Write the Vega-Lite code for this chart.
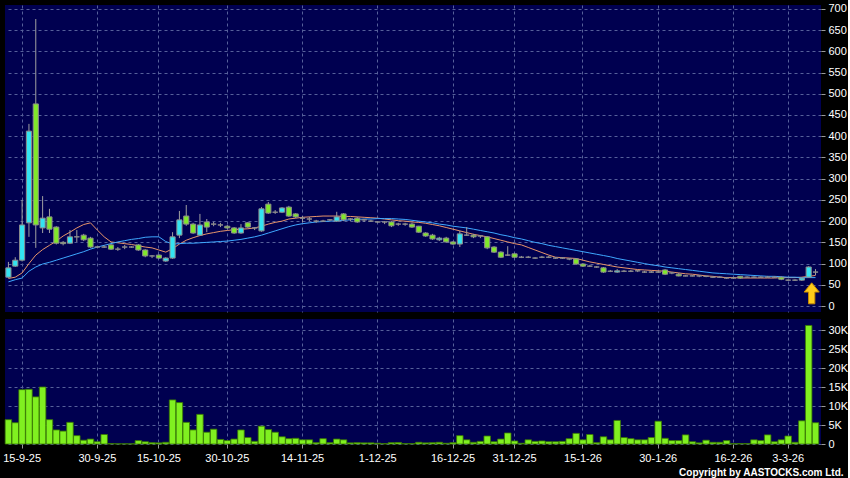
{
 "$schema": "https://vega.github.io/schema/vega-lite/v6.json",
 "background": "#000000",
 "padding": {"left": 2, "top": 2, "right": 0, "bottom": 0},
 "spacing": 7,
 "title": {"text": "Copyright by AASTOCKS.com Ltd.", "orient": "bottom", "anchor": "end", "color": "#ffffff", "font": "Liberation Sans", "fontSize": 10, "fontWeight": "bold", "offset": 5, "dx": -4},
 "datasets": {
  "px": [
   {"d":"11-9-25","o":68,"h":104,"l":66,"c":90,"v":6400,"m1":65,"m2":57},
   {"d":"12-9-25","o":94,"h":115,"l":92,"c":108,"v":5600,"m1":68,"m2":62},
   {"d":"15-9-25","o":108,"h":250,"l":105,"c":191,"v":14300,"m1":78,"m2":66},
   {"d":"16-9-25","o":196,"h":429,"l":163,"c":412,"v":14400,"m1":100,"m2":82},
   {"d":"17-9-25","o":476,"h":676,"l":137,"c":191,"v":12400,"m1":120,"m2":92},
   {"d":"18-9-25","o":184,"h":259,"l":172,"c":207,"v":15000,"m1":133,"m2":99},
   {"d":"19-9-25","o":210,"h":229,"l":172,"c":181,"v":6400,"m1":143,"m2":103},
   {"d":"22-9-25","o":186,"h":188,"l":145,"c":148,"v":3700,"m1":153,"m2":108},
   {"d":"23-9-25","o":150,"h":153,"l":143,"c":147,"v":3400,"m1":165,"m2":113},
   {"d":"24-9-25","o":148,"h":179,"l":146,"c":163,"v":5700,"m1":174,"m2":118},
   {"d":"25-9-25","o":163,"h":179,"l":151,"c":163,"v":2200,"m1":184,"m2":123},
   {"d":"26-9-25","o":167,"h":170,"l":153,"c":156,"v":1000,"m1":192,"m2":128},
   {"d":"29-9-25","o":160,"h":163,"l":137,"c":139,"v":1300,"m1":196,"m2":134},
   {"d":"30-9-25","o":139,"h":141,"l":137,"c":139,"v":600,"m1":179,"m2":139},
   {"d":"2-10-25","o":139,"h":143,"l":137,"c":139,"v":2500,"m1":163,"m2":143},
   {"d":"3-10-25","o":144,"h":146,"l":132,"c":134,"v":100,"m1":151,"m2":147},
   {"d":"6-10-25","o":134,"h":139,"l":130,"c":134,"v":50,"m1":149,"m2":151},
   {"d":"8-10-25","o":139,"h":144,"l":134,"c":139,"v":50,"m1":147,"m2":154},
   {"d":"9-10-25","o":139,"h":141,"l":137,"c":139,"v":50,"m1":145,"m2":157},
   {"d":"10-10-25","o":144,"h":146,"l":130,"c":132,"v":900,"m1":142,"m2":159},
   {"d":"13-10-25","o":132,"h":134,"l":115,"c":118,"v":600,"m1":139,"m2":162},
   {"d":"14-10-25","o":118,"h":120,"l":113,"c":118,"v":350,"m1":137,"m2":163},
   {"d":"15-10-25","o":120,"h":122,"l":111,"c":113,"v":300,"m1":132,"m2":163},
   {"d":"16-10-25","o":106,"h":115,"l":104,"c":113,"v":450,"m1":127,"m2":152},
   {"d":"17-10-25","o":113,"h":174,"l":111,"c":163,"v":11600,"m1":135,"m2":146},
   {"d":"20-10-25","o":167,"h":224,"l":160,"c":203,"v":10900,"m1":146,"m2":147},
   {"d":"21-10-25","o":212,"h":238,"l":189,"c":193,"v":5700,"m1":155,"m2":148},
   {"d":"22-10-25","o":193,"h":196,"l":170,"c":172,"v":3700,"m1":161,"m2":148},
   {"d":"23-10-25","o":167,"h":217,"l":165,"c":191,"v":7800,"m1":166,"m2":149},
   {"d":"24-10-25","o":198,"h":205,"l":174,"c":186,"v":3100,"m1":170,"m2":150},
   {"d":"27-10-25","o":193,"h":198,"l":188,"c":193,"v":3900,"m1":173,"m2":151},
   {"d":"28-10-25","o":191,"h":196,"l":186,"c":191,"v":1200,"m1":176,"m2":152},
   {"d":"30-10-25","o":188,"h":191,"l":181,"c":184,"v":900,"m1":178,"m2":153},
   {"d":"31-10-25","o":184,"h":186,"l":170,"c":172,"v":1300,"m1":180,"m2":155},
   {"d":"3-11-25","o":172,"h":193,"l":170,"c":184,"v":3700,"m1":181,"m2":157},
   {"d":"4-11-25","o":196,"h":198,"l":184,"c":186,"v":1700,"m1":182,"m2":160},
   {"d":"5-11-25","o":184,"h":186,"l":179,"c":184,"v":700,"m1":184,"m2":163},
   {"d":"6-11-25","o":177,"h":233,"l":175,"c":229,"v":4700,"m1":188,"m2":167},
   {"d":"7-11-25","o":240,"h":245,"l":217,"c":219,"v":3800,"m1":193,"m2":172},
   {"d":"10-11-25","o":221,"h":226,"l":217,"c":221,"v":3100,"m1":197,"m2":177},
   {"d":"11-11-25","o":221,"h":233,"l":219,"c":231,"v":1900,"m1":200,"m2":182},
   {"d":"12-11-25","o":233,"h":236,"l":210,"c":212,"v":1400,"m1":205,"m2":187},
   {"d":"13-11-25","o":217,"h":219,"l":207,"c":210,"v":1500,"m1":207,"m2":191},
   {"d":"14-11-25","o":207,"h":212,"l":198,"c":207,"v":1100,"m1":209,"m2":194},
   {"d":"17-11-25","o":205,"h":210,"l":200,"c":205,"v":1100,"m1":210,"m2":196},
   {"d":"18-11-25","o":200,"h":203,"l":196,"c":200,"v":350,"m1":211,"m2":198},
   {"d":"19-11-25","o":200,"h":203,"l":198,"c":200,"v":1400,"m1":212,"m2":199},
   {"d":"20-11-25","o":203,"h":205,"l":200,"c":203,"v":350,"m1":212,"m2":200},
   {"d":"21-11-25","o":200,"h":222,"l":198,"c":210,"v":1300,"m1":212,"m2":201},
   {"d":"24-11-25","o":217,"h":219,"l":200,"c":203,"v":1100,"m1":211,"m2":202},
   {"d":"25-11-25","o":205,"h":207,"l":200,"c":205,"v":300,"m1":211,"m2":203},
   {"d":"26-11-25","o":207,"h":210,"l":196,"c":198,"v":350,"m1":210,"m2":204},
   {"d":"27-11-25","o":203,"h":205,"l":198,"c":203,"v":300,"m1":209,"m2":205},
   {"d":"28-11-25","o":200,"h":203,"l":198,"c":200,"v":300,"m1":208,"m2":205},
   {"d":"1-12-25","o":198,"h":200,"l":196,"c":198,"v":200,"m1":207,"m2":206},
   {"d":"2-12-25","o":198,"h":200,"l":193,"c":198,"v":100,"m1":205,"m2":206},
   {"d":"3-12-25","o":198,"h":200,"l":186,"c":189,"v":350,"m1":203,"m2":206},
   {"d":"4-12-25","o":193,"h":196,"l":189,"c":193,"v":400,"m1":201,"m2":205},
   {"d":"5-12-25","o":193,"h":196,"l":189,"c":193,"v":100,"m1":200,"m2":204},
   {"d":"8-12-25","o":193,"h":196,"l":184,"c":186,"v":100,"m1":198,"m2":202},
   {"d":"9-12-25","o":188,"h":189,"l":172,"c":174,"v":450,"m1":197,"m2":200},
   {"d":"10-12-25","o":172,"h":174,"l":163,"c":165,"v":300,"m1":195,"m2":198},
   {"d":"11-12-25","o":167,"h":170,"l":156,"c":158,"v":350,"m1":192,"m2":196},
   {"d":"12-12-25","o":156,"h":163,"l":153,"c":160,"v":450,"m1":189,"m2":193},
   {"d":"15-12-25","o":160,"h":163,"l":149,"c":151,"v":200,"m1":185,"m2":191},
   {"d":"16-12-25","o":151,"h":153,"l":144,"c":146,"v":350,"m1":181,"m2":188},
   {"d":"17-12-25","o":146,"h":177,"l":139,"c":170,"v":2200,"m1":177,"m2":186},
   {"d":"18-12-25","o":167,"h":186,"l":165,"c":167,"v":1100,"m1":173,"m2":184},
   {"d":"19-12-25","o":167,"h":170,"l":160,"c":163,"v":450,"m1":169,"m2":181},
   {"d":"22-12-25","o":165,"h":167,"l":160,"c":165,"v":700,"m1":166,"m2":178},
   {"d":"23-12-25","o":163,"h":165,"l":134,"c":137,"v":2100,"m1":163,"m2":175},
   {"d":"24-12-25","o":139,"h":141,"l":125,"c":127,"v":600,"m1":159,"m2":172},
   {"d":"29-12-25","o":127,"h":129,"l":113,"c":115,"v":1300,"m1":155,"m2":168},
   {"d":"30-12-25","o":120,"h":141,"l":118,"c":120,"v":2900,"m1":151,"m2":165},
   {"d":"31-12-25","o":123,"h":125,"l":113,"c":115,"v":800,"m1":147,"m2":161},
   {"d":"2-1-26","o":115,"h":118,"l":113,"c":115,"v":200,"m1":144,"m2":158},
   {"d":"5-1-26","o":115,"h":118,"l":113,"c":115,"v":1100,"m1":138,"m2":154},
   {"d":"6-1-26","o":113,"h":115,"l":111,"c":113,"v":700,"m1":132,"m2":150},
   {"d":"7-1-26","o":115,"h":118,"l":113,"c":115,"v":800,"m1":126,"m2":147},
   {"d":"8-1-26","o":115,"h":118,"l":113,"c":115,"v":600,"m1":120,"m2":143},
   {"d":"9-1-26","o":113,"h":115,"l":111,"c":113,"v":600,"m1":115,"m2":140},
   {"d":"12-1-26","o":113,"h":115,"l":111,"c":113,"v":700,"m1":114,"m2":137},
   {"d":"13-1-26","o":111,"h":113,"l":108,"c":111,"v":1400,"m1":113,"m2":134},
   {"d":"14-1-26","o":111,"h":113,"l":97,"c":99,"v":2800,"m1":112,"m2":131},
   {"d":"15-1-26","o":99,"h":101,"l":92,"c":94,"v":1100,"m1":108,"m2":128},
   {"d":"16-1-26","o":94,"h":97,"l":92,"c":94,"v":2500,"m1":104,"m2":125},
   {"d":"19-1-26","o":92,"h":94,"l":90,"c":92,"v":350,"m1":101,"m2":122},
   {"d":"20-1-26","o":90,"h":92,"l":78,"c":80,"v":1900,"m1":98,"m2":119},
   {"d":"21-1-26","o":82,"h":85,"l":80,"c":82,"v":1100,"m1":95,"m2":116},
   {"d":"22-1-26","o":80,"h":87,"l":78,"c":83,"v":6200,"m1":92,"m2":112},
   {"d":"23-1-26","o":82,"h":85,"l":80,"c":82,"v":1700,"m1":90,"m2":109},
   {"d":"26-1-26","o":82,"h":85,"l":80,"c":82,"v":1400,"m1":88,"m2":106},
   {"d":"27-1-26","o":83,"h":85,"l":80,"c":83,"v":1100,"m1":86,"m2":103},
   {"d":"28-1-26","o":80,"h":83,"l":78,"c":80,"v":1100,"m1":85,"m2":100},
   {"d":"29-1-26","o":80,"h":83,"l":78,"c":80,"v":1700,"m1":84,"m2":97},
   {"d":"30-1-26","o":80,"h":83,"l":78,"c":80,"v":6000,"m1":83,"m2":95},
   {"d":"2-2-26","o":85,"h":87,"l":73,"c":75,"v":1500,"m1":82,"m2":92},
   {"d":"3-2-26","o":78,"h":80,"l":75,"c":78,"v":900,"m1":80,"m2":90},
   {"d":"4-2-26","o":75,"h":78,"l":70,"c":71,"v":900,"m1":78,"m2":88},
   {"d":"5-2-26","o":71,"h":73,"l":70,"c":71,"v":2400,"m1":76,"m2":86},
   {"d":"6-2-26","o":71,"h":73,"l":70,"c":71,"v":600,"m1":75,"m2":84},
   {"d":"9-2-26","o":71,"h":73,"l":68,"c":71,"v":300,"m1":73,"m2":82},
   {"d":"10-2-26","o":70,"h":71,"l":68,"c":70,"v":1000,"m1":71,"m2":80},
   {"d":"11-2-26","o":68,"h":70,"l":66,"c":68,"v":450,"m1":70,"m2":78},
   {"d":"12-2-26","o":68,"h":70,"l":66,"c":68,"v":450,"m1":68,"m2":77},
   {"d":"13-2-26","o":66,"h":68,"l":64,"c":66,"v":900,"m1":67,"m2":76},
   {"d":"16-2-26","o":66,"h":68,"l":64,"c":66,"v":100,"m1":67,"m2":75},
   {"d":"20-2-26","o":70,"h":71,"l":64,"c":66,"v":100,"m1":66,"m2":74},
   {"d":"23-2-26","o":68,"h":70,"l":66,"c":68,"v":100,"m1":66,"m2":73},
   {"d":"24-2-26","o":68,"h":70,"l":66,"c":68,"v":1100,"m1":66,"m2":72},
   {"d":"25-2-26","o":68,"h":70,"l":66,"c":68,"v":900,"m1":66,"m2":71},
   {"d":"26-2-26","o":68,"h":71,"l":66,"c":68,"v":2400,"m1":66,"m2":70},
   {"d":"27-2-26","o":68,"h":70,"l":66,"c":68,"v":600,"m1":66,"m2":70},
   {"d":"2-3-26","o":68,"h":70,"l":61,"c":63,"v":1100,"m1":67,"m2":69},
   {"d":"3-3-26","o":61,"h":63,"l":59,"c":61,"v":2100,"m1":67,"m2":68},
   {"d":"4-3-26","o":61,"h":63,"l":59,"c":61,"v":450,"m1":67,"m2":68},
   {"d":"5-3-26","o":61,"h":68,"l":59,"c":66,"v":6100,"m1":68,"m2":67},
   {"d":"6-3-26","o":68,"h":94,"l":66,"c":92,"v":31200,"m1":70,"m2":67},
   {"d":"9-3-26","o":80,"h":87,"l":73,"c":80,"v":5600,"m1":72,"m2":67}
  ]
 },
 "vconcat": [
  {
   "width": 816,
   "height": 307,
   "data": {"name": "px"},
   "encoding": {
    "x": {"field": "d", "type": "ordinal", "sort": null,
     "scale": {"paddingInner": 0, "paddingOuter": 0.15, "align": 0},
     "axis": {"values": ["15-9-25","30-9-25","15-10-25","30-10-25","14-11-25","1-12-25","16-12-25","31-12-25","15-1-26","30-1-26","16-2-26","3-3-26"],
      "labels": false, "ticks": false, "domain": false, "grid": true, "title": null, "bandPosition": 0.5}}
   },
   "layer": [
    {"mark": {"type": "line", "color": "#e8956a", "strokeWidth": 1},
     "encoding": {
      "y": {"field": "m1", "type": "quantitative",
       "scale": {"domain": [-14, 709], "nice": false, "zero": false},
       "axis": {"orient": "right", "values": [0,50,100,150,200,250,300,350,400,450,500,550,600,650,700], "grid": true, "title": null, "labelPadding": 3, "labelOverlap": false}},
      "order": {"value": null}}},
    {"mark": {"type": "line", "color": "#3ea8ff", "strokeWidth": 1},
     "encoding": {"y": {"field": "m2", "type": "quantitative", "scale": {"domain": [-14, 709], "nice": false, "zero": false},
       "axis": {"orient": "right", "values": [0,50,100,150,200,250,300,350,400,450,500,550,600,650,700], "grid": true, "title": null, "labelPadding": 3, "labelOverlap": false}}, "order": {"value": null}}},
    {"mark": {"type": "rule", "color": "#a0a0a0", "strokeWidth": 1},
     "encoding": {"y": {"field": "l", "type": "quantitative", "scale": {"domain": [-14, 709], "nice": false, "zero": false},
       "axis": {"orient": "right", "values": [0,50,100,150,200,250,300,350,400,450,500,550,600,650,700], "grid": true, "title": null, "labelPadding": 3, "labelOverlap": false}}, "y2": {"field": "h"}}},
    {"mark": {"type": "bar", "width": {"band": 0.75}, "stroke": "#8c8c8c", "strokeWidth": 1},
     "encoding": {
      "y": {"field": "o", "type": "quantitative", "scale": {"domain": [-14, 709], "nice": false, "zero": false},
       "axis": {"orient": "right", "values": [0,50,100,150,200,250,300,350,400,450,500,550,600,650,700], "grid": true, "title": null, "labelPadding": 3, "labelOverlap": false}}, "y2": {"field": "c"},
      "fill": {"condition": [{"test": "datum.c > datum.o", "value": "#33e4f2"}, {"test": "datum.c < datum.o", "value": "#80e82a"}], "value": "#8c8c8c"}}},
    {"mark": {"type": "point", "shape": "M0,-1L0.72,-0.12L0.3,-0.12L0.3,1L-0.3,1L-0.3,-0.12L-0.72,-0.12Z", "size": 441, "filled": true, "fill": "#ffcc1a", "stroke": "#c98a00", "strokeWidth": 1, "xOffset": 3},
     "encoding": {"y": {"datum": 30, "type": "quantitative", "scale": {"domain": [-14, 709], "nice": false, "zero": false},
       "axis": {"orient": "right", "values": [0,50,100,150,200,250,300,350,400,450,500,550,600,650,700], "grid": true, "title": null, "labelPadding": 3, "labelOverlap": false}}, "opacity": {"condition": {"test": "datum.d == '6-3-26'", "value": 1}, "value": 0}}}
   ]
  },
  {
   "width": 816,
   "height": 125,
   "data": {"name": "px"},
   "mark": {"type": "bar", "width": {"band": 0.95}, "fill": "#80f020", "stroke": "#3a7a00", "strokeWidth": 0.8},
   "encoding": {
    "x": {"field": "d", "type": "ordinal", "sort": null,
     "scale": {"paddingInner": 0, "paddingOuter": 0.15, "align": 0},
     "axis": {"values": ["15-9-25","30-9-25","15-10-25","30-10-25","14-11-25","1-12-25","16-12-25","31-12-25","15-1-26","30-1-26","16-2-26","3-3-26"],
      "labelAngle": 0, "grid": true, "ticks": true, "domain": false, "title": null, "bandPosition": 0.5, "labelPadding": 4, "labelOverlap": false, "labelFlush": false}},
    "y": {"field": "v", "type": "quantitative",
     "scale": {"domain": [0, 32900], "nice": false},
     "axis": {"orient": "right", "values": [0,5000,10000,15000,20000,25000,30000], "labelExpr": "datum.value == 0 ? '0' : (datum.value / 1000) + 'K'", "grid": true, "title": null, "labelPadding": 3, "labelOverlap": false}}
   }
  }
 ],
 "config": {
  "view": {"fill": "#000050", "stroke": null},
  "axis": {"labelFont": "Liberation Sans", "labelFontSize": 11, "labelColor": "#ffffff", "tickColor": "#9a9a9a", "tickSize": 4, "gridColor": "#56609a", "gridDash": [3, 3], "gridWidth": 1, "domain": false}
 }
}
